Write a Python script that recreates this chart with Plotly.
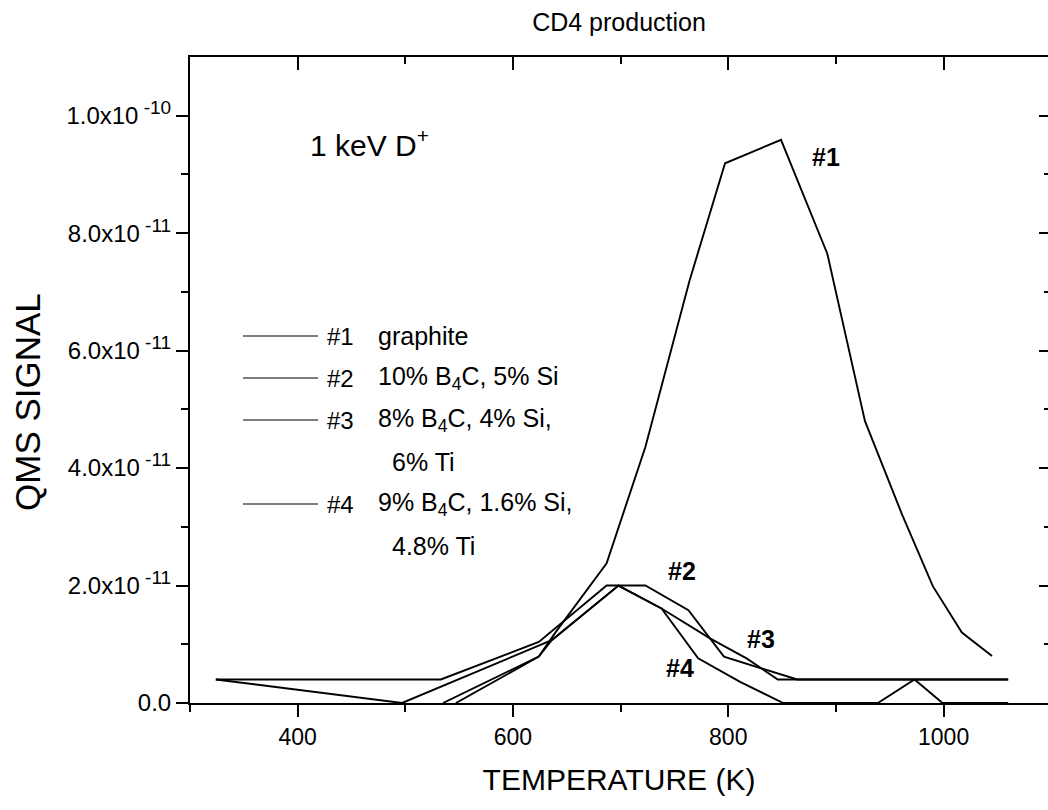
import plotly.graph_objects as go

# ---- data (temperature K, QMS signal) ----
t1 = [535, 624, 639, 687, 723, 764, 797, 849, 892, 927, 961, 990, 1017, 1045]
s1 = [0.0, 0.79e-11, 1.19e-11, 2.38e-11, 4.36e-11, 7.19e-11, 9.19e-11, 9.59e-11,
      7.65e-11, 4.8e-11, 3.23e-11, 1.99e-11, 1.2e-11, 0.8e-11]

t2 = [324, 533, 624, 687, 723, 763, 796, 864, 1060]
s2 = [0.4e-11, 0.4e-11, 1.04e-11, 2.0e-11, 2.0e-11, 1.58e-11, 0.79e-11, 0.4e-11, 0.4e-11]

t3 = [324, 497, 636, 698, 738, 783, 817, 846, 1060]
s3 = [0.4e-11, 0.0, 1.07e-11, 2.0e-11, 1.61e-11, 1.1e-11, 0.76e-11, 0.4e-11, 0.4e-11]

t4 = [547, 624, 636, 698, 738, 772, 811, 851, 939, 973, 999, 1060]
s4 = [0.0, 0.79e-11, 1.07e-11, 2.0e-11, 1.61e-11, 0.76e-11, 0.36e-11, 0.0, 0.0, 0.4e-11, 0.0, 0.0]

series_names = ["#1", "#2", "#3", "#4"]
legend_desc = ["graphite", "10% B<sub>4</sub>C, 5% Si", "8% B<sub>4</sub>C, 4% Si,", "9% B<sub>4</sub>C, 1.6% Si,"]
legend_extra = ["", "", "6% Ti", "4.8% Ti"]

x_tickvals = [400, 600, 800, 1000]
x_ticktext = ["400", "600", "800", "1000"]
y_tickvals = [0, 2e-11, 4e-11, 6e-11, 8e-11, 1e-10]
y_mantissa = ["0.0", "2.0x10", "4.0x10", "6.0x10", "8.0x10", "1.0x10"]
y_exponent = ["", "-11", "-11", "-11", "-11", "-10"]
x_minor = [300, 500, 700, 900, 1100]
y_minor = [1e-11, 3e-11, 5e-11, 7e-11, 9e-11]

# label positions (data coords) for the curve tags
tag_x = [891, 757, 830, 755]
tag_y = [9.3e-11, 2.24e-11, 1.09e-11, 0.6e-11]

FONT = "Liberation Sans, Arial, Helvetica, sans-serif"
XR = [300, 1097]
YR = [0, 1.1e-10]

y_ticktext = [m if not e else m + "<sup><span style='font-size:19px'> " + e + "</span></sup>"
              for m, e in zip(y_mantissa, y_exponent)]

fig = go.Figure()
for t, s, n in zip([t1, t2, t3, t4], [s1, s2, s3, s4], series_names):
    fig.add_trace(go.Scatter(x=t, y=s, mode="lines", name=n, showlegend=False,
                             line=dict(color="black", width=1.9)))
# invisible trace for mirrored (top/right) axes
fig.add_trace(go.Scatter(x=[None], y=[None], xaxis="x2", yaxis="y2",
                         showlegend=False, hoverinfo="skip"))

L, T, B = 190, 57, 107
W, H = 1048, 810
pw = W - L
ph = H - T - B

fig.update_layout(
    width=W, height=H,
    margin=dict(l=L, r=0, t=T, b=B, autoexpand=False),
    paper_bgcolor="white", plot_bgcolor="white",
    font=dict(family=FONT, color="black", size=22),
    title=dict(text="CD4 production", x=0.5, xref="paper", xanchor="center",
               y=1 - 22 / H, yanchor="middle", font=dict(size=25)),
    xaxis=dict(range=XR, showgrid=False, zeroline=False, showline=True, automargin=False,
               linecolor="black", linewidth=2, ticks="outside", ticklen=12,
               tickwidth=2, tickcolor="black", tickvals=x_tickvals, ticktext=x_ticktext,
               minor=dict(tickvals=x_minor, ticks="outside", ticklen=7,
                          tickwidth=2, tickcolor="black"),
               title=dict(text="TEMPERATURE (K)", font=dict(size=30), standoff=20),
               tickfont=dict(size=23)),
    yaxis=dict(range=YR, showgrid=False, zeroline=False, showline=True, automargin=False,
               linecolor="black", linewidth=2, ticks="outside", ticklen=12,
               tickwidth=2, tickcolor="black", tickvals=y_tickvals, ticktext=y_ticktext,
               minor=dict(tickvals=y_minor, ticks="outside",
                          ticklen=7, tickwidth=2, tickcolor="black"),
               tickfont=dict(size=24)),
    xaxis2=dict(range=XR, overlaying="x", side="top", showgrid=False, zeroline=False,
                showline=True, linecolor="black", linewidth=2, ticks="inside",
                ticklen=13, tickwidth=2, tickcolor="black", tickvals=x_tickvals,
                showticklabels=False, automargin=False,
                minor=dict(tickvals=x_minor, ticks="inside", ticklen=7,
                           tickwidth=2, tickcolor="black")),
    yaxis2=dict(range=YR, overlaying="y", side="right", showgrid=False, zeroline=False,
                showline=False, ticks="inside", ticklen=9, tickwidth=2, tickcolor="black",
                tickvals=y_tickvals, showticklabels=False, automargin=False,
                minor=dict(tickvals=y_minor, ticks="inside",
                           ticklen=4, tickwidth=2, tickcolor="black")),
)

def px2paper(px, py):
    return (px - L) / pw, (H - B - py) / ph

# y-axis title
qx, qy = px2paper(28, 402)
fig.add_annotation(x=qx, y=qy, xref="paper", yref="paper", text="QMS SIGNAL",
                   textangle=-90, showarrow=False, xanchor="center", yanchor="middle",
                   font=dict(size=35, family=FONT, color="black"))

# curve tags
for n, xx, yy in zip(series_names, tag_x, tag_y):
    fig.add_annotation(x=xx, y=yy, text="<b>" + n + "</b>", showarrow=False,
                       font=dict(size=25, family=FONT, color="black"))

# "1 keV D+"
ax_, ay_ = px2paper(308, 143)
fig.add_annotation(x=ax_, y=ay_, xref="paper", yref="paper", text="1 keV D<sup>+</sup>",
                   showarrow=False, xanchor="left", yanchor="middle",
                   font=dict(size=30, family=FONT, color="black"))

# legend
row_y = [336, 378, 420, 504]
extra_y = [None, None, 462, 546]
for n, d, e, ry, ey in zip(series_names, legend_desc, legend_extra, row_y, extra_y):
    x0, y0 = px2paper(243, ry)
    x1, _ = px2paper(318, ry)
    fig.add_shape(type="line", xref="paper", yref="paper", x0=x0, x1=x1, y0=y0, y1=y0,
                  line=dict(color="black", width=1.2))
    xa, _ = px2paper(325, ry)
    fig.add_annotation(x=xa, y=y0, xref="paper", yref="paper", text=n, showarrow=False,
                       xanchor="left", yanchor="middle", font=dict(size=24, family=FONT))
    xb, _ = px2paper(376, ry)
    fig.add_annotation(x=xb, y=y0, xref="paper", yref="paper", text=d, showarrow=False,
                       xanchor="left", yanchor="middle", font=dict(size=25, family=FONT))
    if e:
        xc, yc = px2paper(390, ey)
        fig.add_annotation(x=xc, y=yc, xref="paper", yref="paper", text=e, showarrow=False,
                           xanchor="left", yanchor="middle", font=dict(size=25, family=FONT))

fig.write_html("out.html", config={"displayModeBar": False},
               post_script="document.body.style.margin='0';document.body.style.overflow='hidden';")
